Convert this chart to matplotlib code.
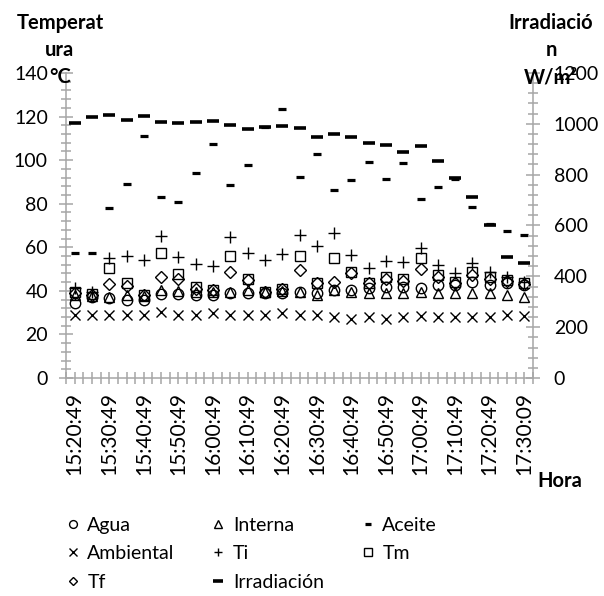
import numpy as np
import matplotlib.pyplot as plt
from matplotlib.ticker import MultipleLocator

# ---- data ----
horas = ["15:20:49", "15:25:49", "15:30:49", "15:35:49", "15:40:49", "15:45:49",
         "15:50:49", "15:55:49", "16:00:49", "16:05:49", "16:10:49", "16:15:49",
         "16:20:49", "16:25:49", "16:30:49", "16:35:49", "16:40:49", "16:45:49",
         "16:50:49", "16:55:49", "17:00:49", "17:05:49", "17:10:49", "17:15:49",
         "17:20:49", "17:25:49", "17:30:09"]

agua = [34.5, 37.0, 36.6, 35.8, 36.0, 38.5, 38.5, 37.9, 38.1, 38.9, 39.2, 38.9, 39.2, 39.6,
        39.2, 40.4, 40.4, 41.3, 41.9, 41.9, 41.3, 42.7, 42.7, 44.2, 42.7, 43.5, 42.7]
interna = [38.0, 37.6, 37.3, 38.1, 37.5, 40.4, 40.0, 39.6, 39.5, 39.6, 40.4, 39.5, 39.8, 39.6,
           38.1, 40.4, 39.6, 38.9, 38.9, 38.9, 39.6, 38.9, 38.9, 38.9, 38.9, 38.1, 37.3]
aceite = [57.4, 57.4, 78.0, 88.9, 111.0, 83.0, 80.8, 93.9, 107.5, 88.6, 97.8, 115.0, 123.6, 92.2,
          102.6, 86.4, 90.9, 99.0, 91.5, 98.5, 82.0, 87.7, 91.5, 78.5, 70.7, 67.6, 65.6]
ambiental = [28.9, 28.9, 28.9, 28.9, 28.9, 30.4, 28.9, 28.9, 30.0, 28.9, 28.9, 28.9, 29.7, 28.9,
             28.9, 27.9, 26.9, 27.9, 26.9, 27.9, 28.5, 28.2, 28.2, 27.9, 28.2, 28.9, 28.5]
ti = [41.3, 39.6, 54.9, 55.9, 54.3, 65.3, 55.5, 52.5, 51.2, 64.8, 57.5, 54.0, 56.9, 65.6,
      60.6, 66.4, 56.4, 50.5, 53.8, 53.2, 59.5, 51.9, 48.4, 52.6, 48.8, 46.5, 44.0]
tm = [39.6, 38.4, 50.6, 43.5, 38.1, 57.2, 47.6, 41.9, 40.4, 56.0, 45.3, 39.6, 40.7, 56.2,
      43.7, 54.9, 48.8, 43.5, 46.5, 45.3, 55.3, 47.3, 44.2, 48.8, 46.5, 45.0, 43.7]
tf = [38.8, 37.9, 43.1, 42.2, 38.1, 46.2, 45.5, 41.0, 40.4, 48.5, 44.8, 39.6, 40.7, 49.8,
      43.5, 44.2, 48.0, 43.5, 45.5, 44.5, 50.0, 46.5, 43.5, 47.5, 45.5, 44.5, 43.0]
irradiacion = [1005, 1028, 1034, 1015, 1031, 1008, 1005, 1008, 1012, 997, 980, 987, 992, 985,
               947, 959, 949, 925, 918, 890, 913, 853, 785, 714, 600, 476, 453]

plt.rcParams['font.family'] = ['Lato', 'DejaVu Sans']
W, H = 604, 596
def fx(px):
    return px / W
def fy(py):
    return 1 - py / H

grey = '#a6a6a6'
fig = plt.figure(figsize=(W / 100, H / 100), dpi=100)
ax = fig.add_axes([fx(66), fy(378), fx(533) - fx(66), fy(73) - fy(378)])
ax2 = ax.twinx()

x = np.arange(len(horas)) + 0.5
ms = 7.5
ax.plot(x, agua, ls='none', marker='o', ms=ms, mfc='none', mec='black', mew=1.0, label='Agua')
ax.plot(x, interna, ls='none', marker='^', ms=ms, mfc='none', mec='black', mew=1.0, label='Interna')
ax.plot(x, aceite, ls='none', marker='_', ms=5.5, mec='black', mew=2.3, label='Aceite')
ax.plot(x, ambiental, ls='none', marker='x', ms=ms, mec='black', mew=1.0, label='Ambiental')
ax.plot(x, ti, ls='none', marker='+', ms=8.5, mec='black', mew=1.0, label='Ti')
ax.plot(x, tm, ls='none', marker='s', ms=ms, mfc='none', mec='black', mew=1.0, label='Tm')
ax.plot(x, tf, ls='none', marker='D', ms=5.8, mfc='none', mec='black', mew=1.0, label='Tf')
ax2.plot(x, irradiacion, ls='none', marker='_', ms=9, mec='black', mew=2.6, label='Irradiación')

ax.set_xlim(0, len(horas))
ax.set_ylim(0, 140)
ax2.set_ylim(0, 1200)
ax.yaxis.set_major_locator(MultipleLocator(20))
ax.yaxis.set_minor_locator(MultipleLocator(4))
ax2.yaxis.set_major_locator(MultipleLocator(200))
ax2.yaxis.set_minor_locator(MultipleLocator(40))

ax.set_xticks(x[::2])
ax.set_xticklabels(horas[::2], rotation=90)
ax.set_xticks(np.arange(0, len(horas) + 0.01, 0.5), minor=True)

for a in (ax, ax2):
    for s in a.spines.values():
        s.set_visible(False)
ax.spines['left'].set_visible(True)
ax.spines['bottom'].set_visible(True)
ax2.spines['right'].set_visible(True)
for s in (ax.spines['left'], ax.spines['bottom'], ax2.spines['right']):
    s.set_color(grey)
    s.set_linewidth(1.1)

ax.tick_params(axis='y', which='major', direction='inout', length=10, width=1.1, color=grey,
               labelsize=14, pad=8)
ax.tick_params(axis='y', which='minor', direction='inout', length=6.5, width=1.1, color=grey)
ax2.tick_params(axis='y', which='major', direction='inout', length=10, width=1.1, color=grey,
                labelsize=14, pad=10)
ax2.tick_params(axis='y', which='minor', direction='inout', length=6.5, width=1.1, color=grey)
ax.tick_params(axis='x', which='both', direction='inout', length=8, width=1.1, color=grey,
               labelsize=15, pad=6)

fig.text(fx(60), fy(50), "Temperat\nura\n°C", ha='center', va='center', fontsize=14.5,
         fontweight='bold', linespacing=1.45)
fig.text(fx(551), fy(50), "Irradiació\nn\nW/m²", ha='center', va='center', fontsize=14.5,
         fontweight='bold', linespacing=1.45)
fig.text(fx(537), fy(481), "Hora", ha='left', va='center', fontsize=14.5, fontweight='bold')

h1, l1 = ax.get_legend_handles_labels()
h2, l2 = ax2.get_legend_handles_labels()
hd = dict(zip(l1 + l2, h1 + h2))
orden = ['Agua', 'Ambiental', 'Tf', 'Interna', 'Ti', 'Irradiación', 'Aceite', 'Tm']
fig.legend([hd[k] for k in orden], orden, ncol=3, loc='upper left',
           bbox_to_anchor=(fx(65), fy(517)), frameon=False, fontsize=14,
           handlelength=0.8, handletextpad=0.35, columnspacing=1.85, labelspacing=0.58,
           markerscale=0.75, borderpad=0, borderaxespad=0)

fig.savefig('out.png', dpi=100)
